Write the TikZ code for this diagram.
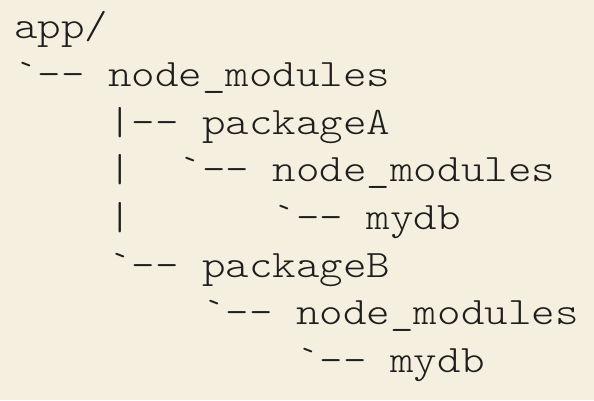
\documentclass[tikz,border=0pt]{standalone}
\usepackage{fontspec}
\newfontfamily\treefont[FakeStretch=1.152]{Latin Modern Mono Light}
\definecolor{bgbeige}{HTML}{F4EFDF}
\definecolor{txtdark}{HTML}{1E1E1E}
\newcommand{\bq}{\symbol{96}}
\begin{document}
\begin{tikzpicture}[x=1pt,y=1pt,
  treeline/.style={anchor=base west,inner sep=0pt,outer sep=0pt,text=txtdark,
    font=\treefont\fontsize{38.9}{46}\selectfont}]
\fill[bgbeige] (0,0) rectangle (594,400);
\useasboundingbox (0,0) rectangle (594,400);
\node[treeline] (l1) at (14,{400-39}) {app/};
\node[treeline] (l2) at (14,{400-39-47.6}) {\bq{}-{}- node\_modules};
\node[treeline] (l3) at (14,{400-39-2*47.6}) {\ \ \ \ |-{}- packageA};
\node[treeline] (l4) at (14,{400-39-3*47.6}) {\ \ \ \ |\ \ \bq{}-{}- node\_modules};
\node[treeline] (l5) at (14,{400-39-4*47.6}) {\ \ \ \ |\ \ \ \ \ \ \bq{}-{}- mydb};
\node[treeline] (l6) at (14,{400-39-5*47.6}) {\ \ \ \ \bq{}-{}- packageB};
\node[treeline] (l7) at (14,{400-39-6*47.6}) {\ \ \ \ \ \ \ \ \bq{}-{}- node\_modules};
\node[treeline] (l8) at (14,{400-39-7*47.6}) {\ \ \ \ \ \ \ \ \ \ \ \ \bq{}-{}- mydb};
\end{tikzpicture}
\end{document}
